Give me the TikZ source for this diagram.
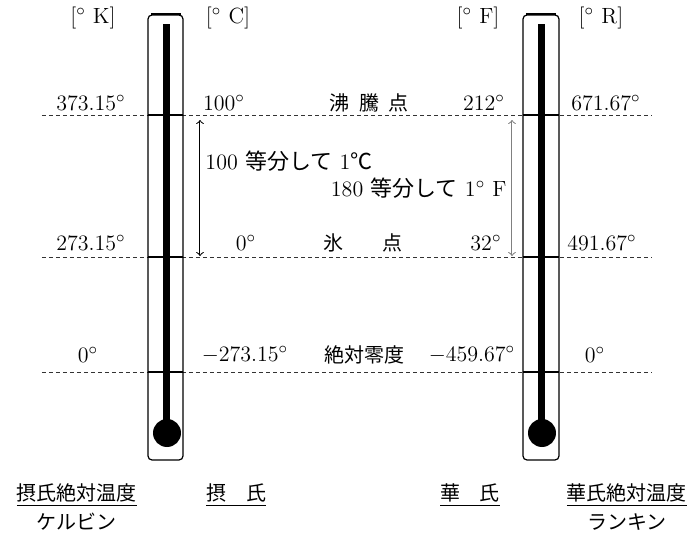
\documentclass[tikz,border=0pt]{standalone}
\usepackage{fontspec}
\newfontfamily\jp{Noto Sans CJK JP}
\usetikzlibrary{positioning}

\tikzset{
 num/.style={font=\fontsize{11}{13}\selectfont, inner sep=1pt},
 jtext/.style={font=\jp\fontsize{10}{12}\selectfont, inner sep=1pt},
 level/.style={dash pattern=on 2pt off 1.5pt, line width=0.5pt, black!80},
 tube/.style={rounded corners=2pt, line width=0.6pt},
 tick/.style={line width=0.9pt},
}

\begin{document}
\begin{tikzpicture}[x=0.5pt, y=-0.5pt, node distance=13.5pt, auto]
 \useasboundingbox (0,0) rectangle (693,536);

 % levels
 \coordinate (BL) at (42,115);  \coordinate (BR) at (652,115);
 \coordinate (ML) at (42,257);  \coordinate (MR) at (652,257);
 \coordinate (ZL) at (42,372);  \coordinate (ZR) at (652,372);
 \draw[level] (BL) -- (BR);
 \draw[level] (ML) -- (MR);
 \draw[level] (ZL) -- (ZR);

 % thermometers
 \fill[white] (148,15) rectangle (183,460);
 \draw[tube] (148,15) rectangle (183,460);
 \draw[line width=1pt] (151,14) -- (181,14);
 \draw[line width=3.5pt] (167,24) -- (167,430);
 \fill (167,433) circle [radius=14];
 \draw[tick] (148,115) -- (183,115);
 \draw[tick] (148,257) -- (183,257);
 \draw[tick] (148,372) -- (183,372);

 \fill[white] (523,15) rectangle (559,460);
 \draw[tube] (523,15) rectangle (559,460);
 \draw[line width=1pt] (526,14) -- (556,14);
 \draw[line width=3.5pt] (542,24) -- (542,430);
 \fill (542,433) circle [radius=14];
 \draw[tick] (523,115) -- (559,115);
 \draw[tick] (523,257) -- (559,257);
 \draw[tick] (523,372) -- (559,372);

 % units
 \node[num] (UK) at (93,18) {[$^\circ$\ K]};
 \node[num] (UC) at (228,18) {[$^\circ$\ C]};
 \node[num] (UF) at (478,18) {[$^\circ$\ F]};
 \node[num] (UR) at (601,18) {[$^\circ$\ R]};

 % boiling point
 \node[num] (K1) at (91,103) {373.15$^\circ$};
 \node[num] (C1) at (224,103) {100$^\circ$};
 \node[jtext] (B1) at (369,103) {沸\hspace{0.5em}騰\hspace{0.5em}点};
 \node[num] (F1) at (484,103) {212$^\circ$};
 \node[num] (R1) at (606,103) {671.67$^\circ$};

 % freezing point
 \node[num] (K2) at (91,243) {273.15$^\circ$};
 \node[num] (C2) at (246,243) {0$^\circ$};
 \node[jtext] (B2) at (363,243) {氷\hspace{2em}点};
 \node[num] (F2) at (486,243) {32$^\circ$};
 \node[num] (R2) at (602,243) {491.67$^\circ$};

 % absolute zero
 \node[num] (K3) at (88,355) {0$^\circ$};
 \node[num] (C3) at (245,355) {$-$273.15$^\circ$};
 \node[jtext] (B3) at (365,355) {絶対零度};
 \node[num] (F3) at (472,355) {$-$459.67$^\circ$};
 \node[num] (R3) at (595,355) {0$^\circ$};

 % divisions
 \coordinate (CT) at (200,120);  \coordinate (CB) at (200,256);
 \coordinate (FT) at (512,120);  \coordinate (FB) at (512,256);
 \draw[<->, line width=0.5pt] (CT) to node[num, pos=0.3, inner sep=2.5pt] {100 {\jp 等分して} 1{\jp ℃}} (CB);
 \draw[<->, line width=0.5pt, gray] (FT) to node[num, pos=0.5, swap, black, inner sep=2.5pt] {180 {\jp 等分して} 1$^\circ$\ F} (FB);

 % scale names
 \node[jtext] (KL) at (77,495) {\underline{摂氏絶対温度}};
 \node[jtext] (KN) [below of=KL] {ケルビン};
 \node[jtext] (CL) at (236,495) {\underline{摂　氏}};
 \node[jtext] (FL) at (470,495) {\underline{華　氏}};
 \node[jtext] (RL) at (627,495) {\underline{華氏絶対温度}};
 \node[jtext] (RN) [below of=RL] {ランキン};
\end{tikzpicture}
\end{document}
